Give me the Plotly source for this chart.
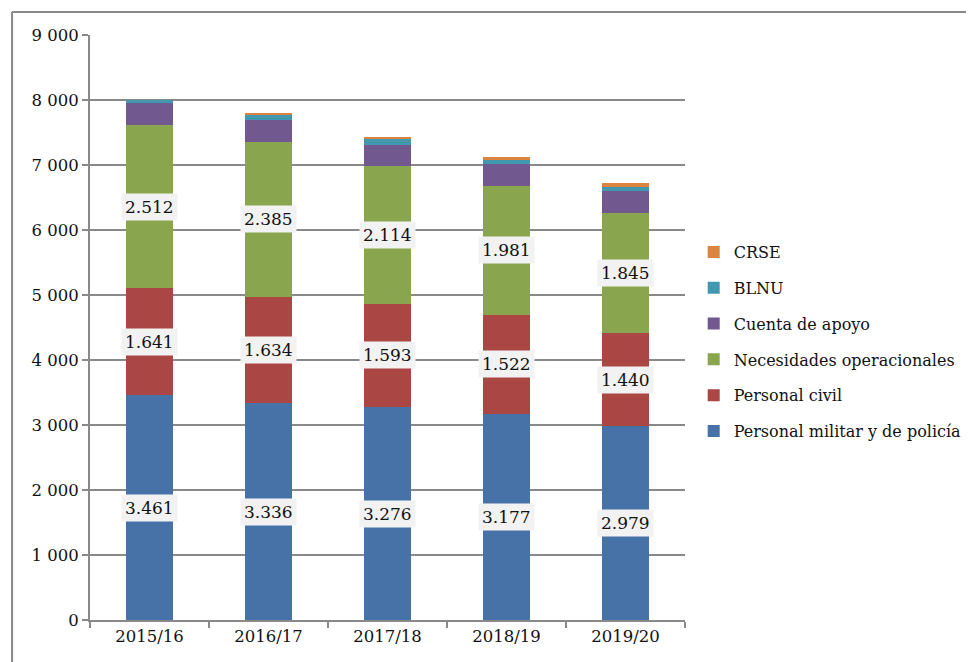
import plotly.graph_objects as go

periodos = ["2015/16", "2016/17", "2017/18", "2018/19", "2019/20"]

militar = [3461, 3336, 3276, 3177, 2979]
civil = [1641, 1634, 1593, 1522, 1440]
operacionales = [2512, 2385, 2114, 1981, 1845]
cuenta_apoyo = [338, 338, 330, 330, 340]
blnu = [50, 88, 83, 66, 62]
crse = [0, 26, 31, 41, 52]

series = [
    ("Personal militar y de policía", militar, "#4672A8"),
    ("Personal civil", civil, "#AA4643"),
    ("Necesidades operacionales", operacionales, "#89A54E"),
    ("Cuenta de apoyo", cuenta_apoyo, "#71588F"),
    ("BLNU", blnu, "#4198AF"),
    ("CRSE", crse, "#DB843D"),
]
con_etiqueta = ["Personal militar y de policía", "Personal civil", "Necesidades operacionales"]

y_ticks = [0, 1000, 2000, 3000, 4000, 5000, 6000, 7000, 8000, 9000]
y_ticktext = ["0", "1 000", "2 000", "3 000", "4 000", "5 000", "6 000", "7 000", "8 000", "9 000"]

serif = "DejaVu Serif"
gris = "#898989"

fig = go.Figure()

base = [0] * len(periodos)
for i, (nombre, vals, color) in enumerate(series):
    fig.add_trace(go.Bar(x=periodos, y=vals, name=nombre,
                         marker=dict(color=color, line=dict(width=0)),
                         legendgroup=str(i), legendrank=100 - i,
                         hoverinfo="y+name"))
    if nombre in con_etiqueta:
        for j in range(len(periodos)):
            mid = base[j] + vals[j] / 2
            fig.add_annotation(x=periodos[j], y=mid,
                               text=f"{vals[j]:,}".replace(",", "."),
                               showarrow=False, bgcolor="#F2F2F2",
                               borderpad=3,
                               font=dict(family=serif, size=17, color="#111111"))
    base = [base[j] + vals[j] for j in range(len(periodos))]

# marco exterior (solo se ven el borde superior e izquierdo)
fig.add_shape(type="line", xref="paper", yref="paper",
              x0=-0.131, x1=1.6, y0=1.0393, y1=1.0393,
              line=dict(color=gris, width=2))
fig.add_shape(type="line", xref="paper", yref="paper",
              x0=-0.131, x1=-0.131, y0=-0.2, y1=1.0393,
              line=dict(color=gris, width=2))

fig.update_layout(
    width=974, height=662,
    margin=dict(l=82, r=297, t=27, b=50, autoexpand=False),
    barmode="stack",
    bargap=0.6,
    plot_bgcolor="white",
    paper_bgcolor="white",
    font=dict(family=serif, size=16.5, color="#111111"),
    legend=dict(traceorder="grouped", tracegroupgap=12,
                xref="container", yref="container",
                x=0.704, y=0.657, xanchor="left", yanchor="top",
                font=dict(family=serif, size=16, color="#111111"),
                itemwidth=30),
    xaxis=dict(showline=True, linecolor=gris, linewidth=2,
               ticks="outside", tickson="boundaries", ticklen=6,
               tickcolor=gris, tickwidth=2,
               tickfont=dict(family=serif, size=16.5)),
    yaxis=dict(range=[0, 9000], tickvals=y_ticks, ticktext=y_ticktext,
               showline=True, linecolor=gris, linewidth=2,
               showgrid=True, gridcolor=gris, gridwidth=2,
               ticks="outside", ticklen=6, tickcolor=gris, tickwidth=2,
               zeroline=False,
               tickfont=dict(family=serif, size=16.5)),
)

fig.write_html("out.html")
